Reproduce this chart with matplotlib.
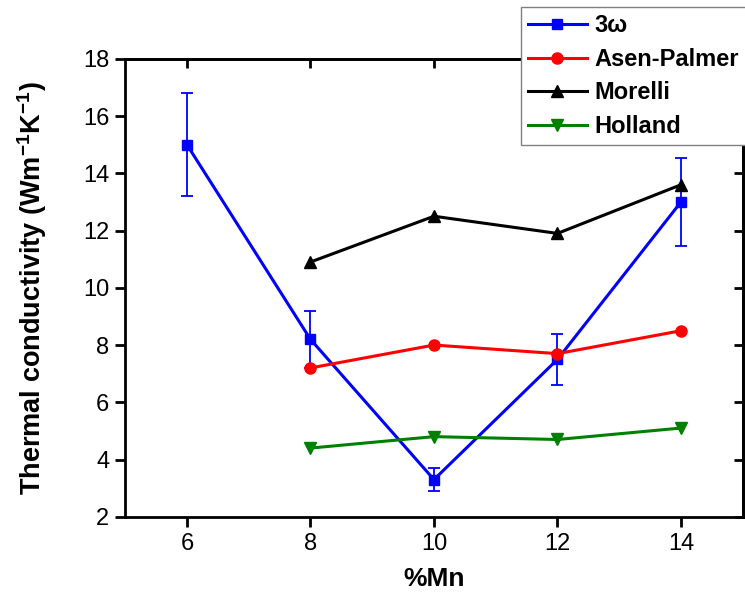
import matplotlib
matplotlib.use("Agg")
import matplotlib.pyplot as plt

plt.rcParams["font.family"] = ["Liberation Sans", "DejaVu Sans"]
plt.rcParams["mathtext.fontset"] = "custom"
plt.rcParams["mathtext.rm"] = "Liberation Sans:bold"
plt.rcParams["mathtext.bf"] = "Liberation Sans:bold"

# data
mn = [6, 8, 10, 12, 14]
three_omega = [15.0, 8.2, 3.3, 7.5, 13.0]
three_omega_err = [1.8, 1.0, 0.4, 0.9, 1.55]

mn_model = [8, 10, 12, 14]
asen_palmer = [7.2, 8.0, 7.7, 8.5]
morelli = [10.9, 12.5, 11.9, 13.6]
holland = [4.4, 4.8, 4.7, 5.1]

fig = plt.figure(figsize=(7.45, 5.94), dpi=100)
ax = fig.add_axes([0.168, 0.130, 0.829, 0.771])

lw = 2.2
ax.errorbar(mn, three_omega, yerr=three_omega_err, fmt="none", ecolor="blue",
            elinewidth=1.3, capsize=4, capthick=1.3)
ax.plot(mn, three_omega, color="blue", lw=lw, marker="s", ms=7, label="3ω")
ax.plot(mn_model, asen_palmer, color="red", lw=lw, marker="o", ms=8,
        label="Asen-Palmer")
ax.plot(mn_model, morelli, color="black", lw=lw, marker="^", ms=8,
        label="Morelli")
ax.plot(mn_model, holland, color="green", lw=lw, marker="v", ms=8,
        label="Holland")

ax.set_xlim(5, 15)
ax.set_ylim(2, 18)
ax.set_xticks([6, 8, 10, 12, 14])
ax.set_yticks(range(2, 19, 2))

for s in ax.spines.values():
    s.set_linewidth(2.0)
ax.tick_params(direction="out", length=7.5, width=2.0, labelsize=17,
               pad=4, top=False, right=False)

# mirrored ticks pointing inward on top and right
top = ax.secondary_xaxis("top")
top.set_xticks([6, 8, 10, 12, 14])
top.tick_params(direction="in", length=6.5, width=2.0, labeltop=False)
top.spines["top"].set_linewidth(2.0)
right = ax.secondary_yaxis("right")
right.set_yticks(range(2, 19, 2))
right.tick_params(direction="in", length=6.5, width=2.0, labelright=False)
right.spines["right"].set_linewidth(2.0)

ax.set_xlabel("%Mn", fontsize=19, fontweight="bold", labelpad=9)
ax.set_ylabel(r"Thermal conductivity (Wm$^{\mathbf{-1}}$K$^{\mathbf{-1}}$)",
              fontsize=19.5, fontweight="bold", labelpad=24)

leg = fig.legend(loc="upper left", bbox_to_anchor=(0.699, 0.988),
                 borderaxespad=0, fancybox=False, framealpha=1,
                 edgecolor="gray", handlelength=2.5, labelspacing=0.45,
                 handletextpad=0.3, borderpad=0.3,
                 prop={"weight": "bold", "size": 17})
leg.get_frame().set_linewidth(1.0)

fig.savefig("out.png", dpi=100)
